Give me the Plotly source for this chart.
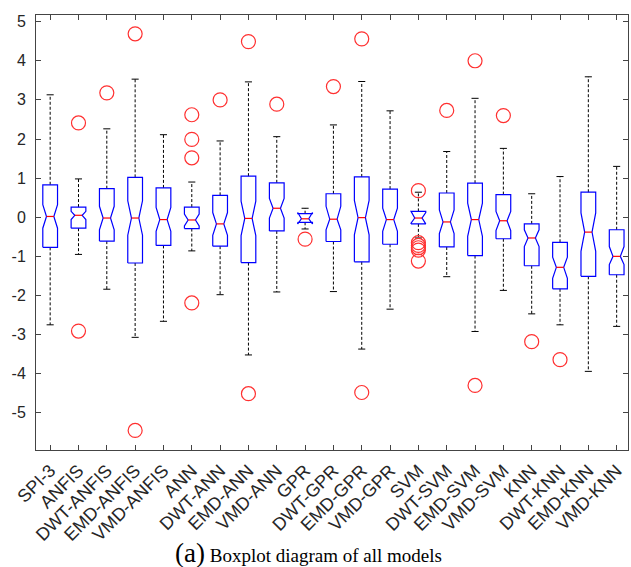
import plotly.graph_objects as go

models = ["SPI-3", "ANFIS", "DWT-ANFIS", "EMD-ANFIS", "VMD-ANFIS", "ANN", "DWT-ANN",
          "EMD-ANN", "VMD-ANN", "GPR", "DWT-GPR", "EMD-GPR", "VMD-GPR", "SVM", "DWT-SVM",
          "EMD-SVM", "VMD-SVM", "KNN", "DWT-KNN", "EMD-KNN", "VMD-KNN"]
q1 = [-0.77, -0.28, -0.61, -1.17, -0.72, -0.29, -0.74, -1.16, -0.35, -0.13, -0.62,
      -1.14, -0.69, -0.17, -0.76, -0.98, -0.55, -1.24, -1.83, -1.51, -1.47]
median = [0.02, 0.05, -0.02, -0.02, -0.06, -0.07, -0.17, -0.03, 0.23, -0.04, -0.05,
          -0.01, -0.06, -0.02, -0.12, -0.06, -0.09, -0.53, -1.28, -0.38, -1.00]
q3 = [0.83, 0.26, 0.73, 1.02, 0.75, 0.26, 0.56, 1.05, 0.88, 0.09, 0.60,
      1.03, 0.72, 0.15, 0.62, 0.87, 0.58, -0.17, -0.64, 0.64, -0.32]
notch_lo = [-0.28, -0.06, -0.32, -0.46, -0.36, -0.22, -0.46, -0.47, -0.02, -0.17, -0.32,
            -0.45, -0.36, -0.15, -0.42, -0.49, -0.34, -0.75, -1.56, -0.87, -1.21]
notch_hi = [0.32, 0.15, 0.28, 0.42, 0.25, 0.08, 0.12, 0.41, 0.48, 0.12, 0.28,
            0.43, 0.23, 0.12, 0.19, 0.36, 0.15, -0.32, -1.02, 0.11, -0.75]
whisker_lo = [-2.75, -0.95, -1.84, -3.07, -2.66, -0.86, -1.98, -3.52, -1.91, -0.30, -1.90,
              -3.37, -2.35, -0.53, -1.52, -2.92, -1.87, -2.47, -2.75, -3.94, -2.79]
whisker_hi = [3.13, 0.98, 2.26, 3.53, 2.11, 0.90, 1.95, 3.46, 2.06, 0.23, 2.36,
              3.47, 2.72, 0.64, 1.68, 3.04, 1.76, 0.60, 1.04, 3.59, 1.30]
outliers = [[], [2.41, -2.91], [3.18], [4.69, -5.45], [], [2.62, 1.99, 1.52, -2.19],
            [3.00], [4.49, -4.51], [2.89], [-0.56], [3.34], [4.56, -4.48], [],
            [0.68, -0.65, -0.72, -0.78, -0.84, -1.12], [2.73], [4.00, -4.30], [2.60],
            [-3.18], [-3.64], [], []]
y_ticks = [-5, -4, -3, -2, -1, 0, 1, 2, 3, 4, 5]
caption_label = "(a)"
caption_text = "Boxplot diagram of all models"

W = 0.26      # box half width
CAP = 0.125   # whisker cap half width
pos = list(range(1, len(models) + 1))

bx, by, mx, my, wx, wy, cx, cy, ox, oy = [], [], [], [], [], [], [], [], [], []
for i, x in enumerate(pos):
    bx += [x - W, x - W, x - W / 2, x - W, x - W, x + W, x + W, x + W / 2, x + W, x + W, x - W, None]
    by += [q1[i], notch_lo[i], median[i], notch_hi[i], q3[i], q3[i], notch_hi[i], median[i],
           notch_lo[i], q1[i], q1[i], None]
    mx += [x - W / 2, x + W / 2, None]
    my += [median[i], median[i], None]
    wx += [x, x, None, x, x, None]
    wy += [q3[i], whisker_hi[i], None, q1[i], whisker_lo[i], None]
    cx += [x - CAP, x + CAP, None, x - CAP, x + CAP, None]
    cy += [whisker_hi[i], whisker_hi[i], None, whisker_lo[i], whisker_lo[i], None]
    for v in outliers[i]:
        ox.append(x)
        oy.append(v)

fig = go.Figure()
fig.add_trace(go.Scatter(x=wx, y=wy, mode="lines", line=dict(color="black", width=1, dash="3px,2px"),
                         hoverinfo="skip"))
fig.add_trace(go.Scatter(x=cx, y=cy, mode="lines", line=dict(color="black", width=1), hoverinfo="skip"))
fig.add_trace(go.Scatter(x=bx, y=by, mode="lines", line=dict(color="#0000ff", width=1.2), hoverinfo="skip"))
fig.add_trace(go.Scatter(x=mx, y=my, mode="lines", line=dict(color="#ff0000", width=1.2), hoverinfo="skip"))
fig.add_trace(go.Scatter(x=ox, y=oy, mode="markers",
                         marker=dict(symbol="circle-open", size=14, color="#ff3030", line=dict(width=1.2))))

axis_common = dict(showline=True, linecolor="#444444", linewidth=1, mirror="ticks", ticks="inside",
                   ticklen=5, tickcolor="#444444", showgrid=False, zeroline=False)

fig.update_layout(
    width=631, height=567,
    margin=dict(l=36, r=3, t=15, b=117),
    paper_bgcolor="white", plot_bgcolor="white",
    showlegend=False,
    xaxis=dict(range=[0.5, 21.4], tickmode="array", tickvals=pos, ticktext=models, tickangle=-45,
               tickfont=dict(family="Liberation Sans, Arial, sans-serif", size=18, color="#262626"),
               ticklabelstandoff=2, **axis_common),
    yaxis=dict(range=[-5.95, 5.17], tickmode="array", tickvals=y_ticks,
               ticktext=[str(t) for t in y_ticks], ticklabelstandoff=6,
               tickfont=dict(family="Liberation Sans, Arial, sans-serif", size=16, color="#262626"),
               **axis_common),
    annotations=[dict(
        xref="paper", yref="paper", x=0.461, y=-0.236, xanchor="center", yanchor="middle",
        showarrow=False,
        text=f"<span style='font-size:27px'>{caption_label}</span> {caption_text}",
        font=dict(family="Liberation Serif, Times New Roman, serif", size=19, color="black"))],
)

fig.write_html("out.html")
